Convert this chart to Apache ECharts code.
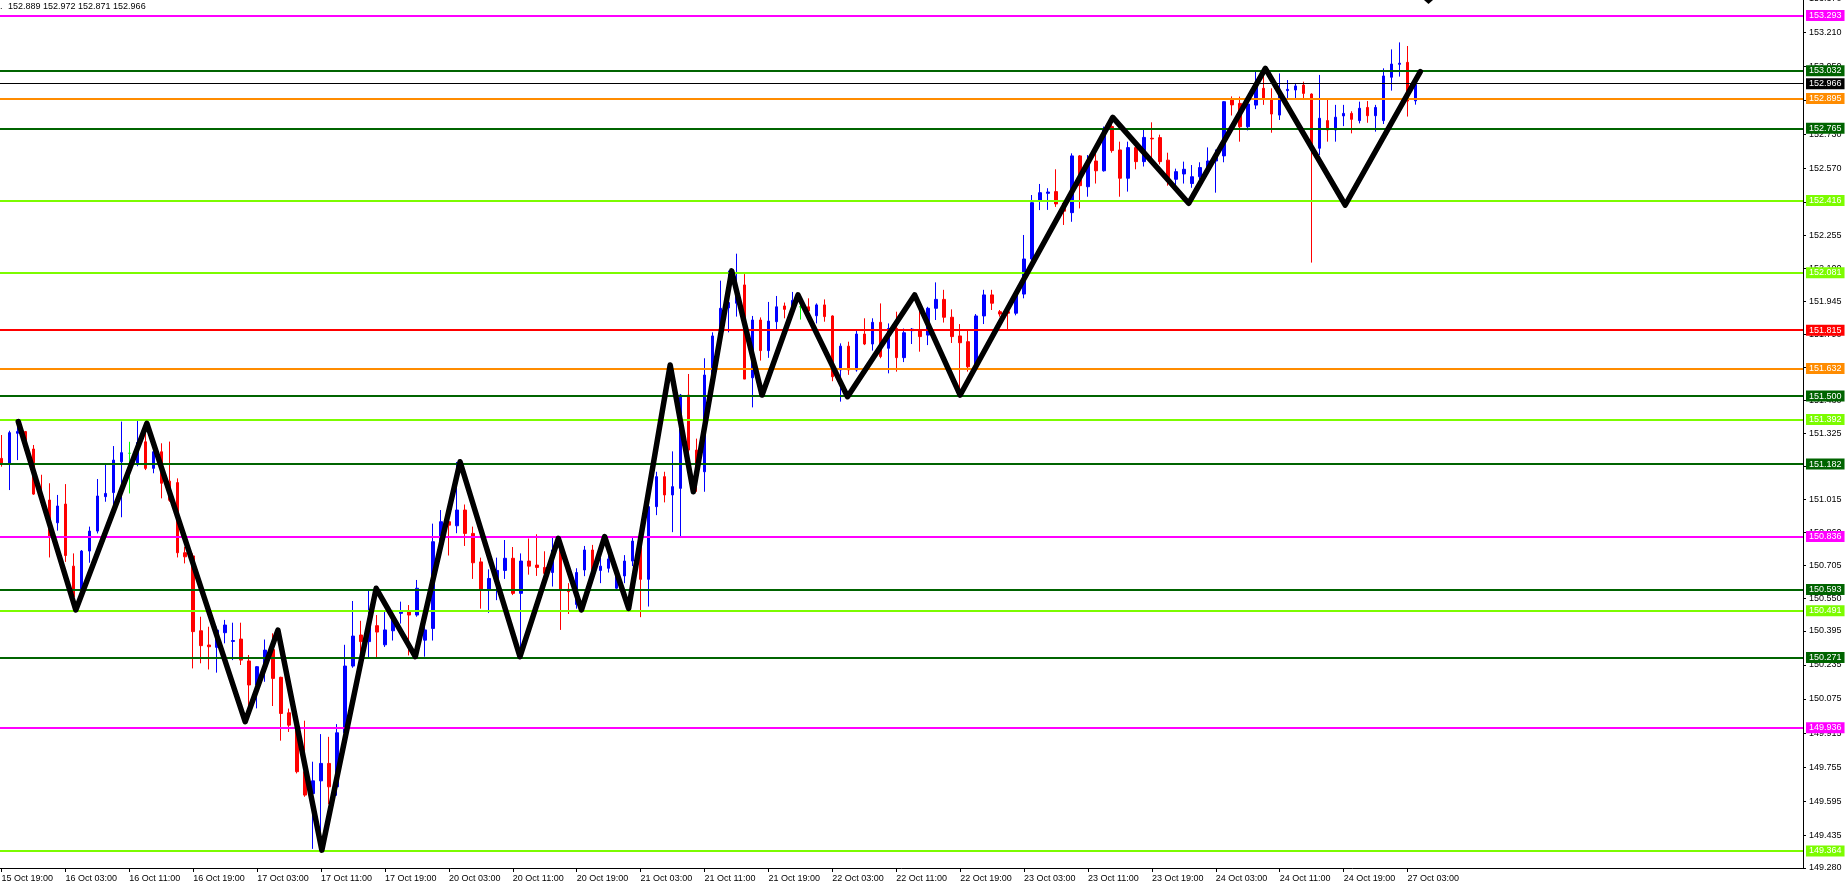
<!DOCTYPE html>
<html><head><meta charset="utf-8">
<script src="https://cdn.jsdelivr.net/npm/echarts@6/dist/echarts.min.js"></script>
<style>html,body{margin:0;padding:0;background:#fff;}#c{width:1848px;height:891px;}</style>
</head><body><div id="c"></div>
<script>
const headerText = '152.889 152.972 152.871 152.966';
const xTickLabels = ['15 Oct 19:00','16 Oct 03:00','16 Oct 11:00','16 Oct 19:00','17 Oct 03:00','17 Oct 11:00','17 Oct 19:00','20 Oct 03:00','20 Oct 11:00','20 Oct 19:00','21 Oct 03:00','21 Oct 11:00','21 Oct 19:00','22 Oct 03:00','22 Oct 11:00','22 Oct 19:00','23 Oct 03:00','23 Oct 11:00','23 Oct 19:00','24 Oct 03:00','24 Oct 11:00','24 Oct 19:00','27 Oct 03:00'];
const yTickValues = [149.280,149.435,149.595,149.755,149.915,150.075,150.235,150.395,150.550,150.705,150.860,151.015,151.170,151.325,151.480,151.635,151.790,151.945,152.100,152.255,152.410,152.570,152.730,152.890,153.050,153.210,153.370];

const opens = [151.207,151.184,151.325,151.333,151.251,151.04,151.011,150.904,150.992,150.70,
150.588,150.771,150.865,151.027,151.046,151.191,151.231,151.184,151.285,151.16,
151.238,151.10,151.093,150.763,150.748,150.396,150.329,150.318,150.387,150.346,
150.357,150.254,150.141,150.227,150.308,150.177,150.010,149.937,149.733,149.63,
149.69,149.772,149.662,149.916,150.23,150.376,150.345,150.42,150.33,150.396,
150.478,150.486,150.47,150.352,150.407,150.815,150.909,150.89,150.964,150.854,
150.72,150.59,150.64,150.68,150.737,150.572,150.724,150.705,150.694,150.67,
150.776,150.591,150.52,150.682,150.776,150.68,150.69,150.596,150.654,150.724,
150.818,150.638,150.98,151.121,151.035,151.066,151.505,151.246,151.144,151.599,
151.78,151.915,151.937,152.023,151.586,151.858,151.714,151.85,151.924,151.91,
151.92,151.92,151.878,151.929,151.877,151.623,151.735,151.623,151.792,151.745,
151.847,151.725,151.818,151.681,151.808,151.808,151.787,151.913,151.955,151.871,
151.783,151.756,151.638,151.877,151.976,151.897,151.897,151.89,151.98,152.145,
152.42,152.454,152.462,152.407,152.363,152.63,152.485,152.606,152.56,152.768,
152.658,152.525,152.669,152.603,152.713,152.716,152.61,152.52,152.545,152.50,
152.532,152.575,152.606,152.63,152.893,152.877,152.767,152.869,152.948,152.90,
152.822,152.937,152.94,152.963,152.921,152.666,152.796,152.752,152.818,152.83,
152.796,152.858,152.819,152.796,153.0,153.061,153.07,152.889];
const highs = [151.317,151.337,151.38,151.336,151.27,151.13,151.09,151.035,151.086,150.76,
150.776,150.886,151.11,151.176,151.265,151.38,151.285,151.384,151.372,151.29,
151.278,151.286,151.113,150.791,150.76,150.462,150.415,150.415,150.447,150.434,
150.434,150.282,150.23,150.355,150.384,150.18,150.03,149.976,149.973,149.78,
149.91,149.897,149.957,150.33,150.536,150.443,150.588,150.47,150.486,150.494,
150.533,150.517,150.635,150.44,150.90,150.964,150.93,151.19,150.99,150.886,
150.74,150.685,150.74,150.823,150.79,150.76,150.83,150.85,150.77,150.84,
150.80,150.62,150.69,150.795,150.80,150.74,150.77,150.70,150.752,150.84,
150.85,151.06,151.144,151.144,151.24,151.51,151.604,151.30,151.678,151.80,
152.043,152.09,152.17,152.074,151.877,151.87,151.943,151.971,151.94,151.99,
151.93,151.96,151.936,151.955,151.88,151.748,151.756,151.81,151.866,151.866,
151.936,151.842,151.897,151.818,151.82,151.92,151.92,152.035,152.0,151.908,
151.839,151.811,151.886,152.0,152.0,151.905,151.92,152.0,152.258,152.446,
152.498,152.478,152.567,152.42,152.642,152.634,152.634,152.65,152.768,152.81,
152.697,152.697,152.70,152.76,152.788,152.73,152.645,152.57,152.603,152.587,
152.60,152.67,152.66,152.888,152.91,152.909,152.909,153.026,153.03,152.948,
153.018,152.987,152.971,152.979,152.924,153.011,152.893,152.87,152.87,152.84,
152.885,152.888,152.87,153.042,153.131,153.164,153.147,152.972];
const lows = [151.168,151.058,151.199,151.238,151.035,150.99,150.741,150.867,150.72,150.506,
150.575,150.716,150.854,151.003,150.93,150.93,151.042,151.17,151.152,151.137,
151.019,151.003,150.741,150.713,150.219,150.243,150.214,150.199,150.337,150.258,
150.235,150.03,150.031,150.156,150.042,149.879,149.92,149.725,149.615,149.37,
149.42,149.58,149.62,149.88,150.222,150.27,150.266,150.27,150.32,150.35,
150.43,150.28,150.462,150.274,150.35,150.80,150.75,150.855,150.795,150.64,
150.50,150.48,150.54,150.64,150.564,150.30,150.66,150.654,150.63,150.604,
150.40,150.475,150.50,150.653,150.62,150.62,150.67,150.59,150.62,150.70,
150.46,150.51,150.94,151.0,150.86,150.84,151.17,151.05,151.05,151.58,
151.76,151.80,151.874,151.58,151.447,151.667,151.68,151.81,151.866,151.88,
151.86,151.86,151.842,151.85,151.57,151.474,151.60,151.615,151.74,151.714,
151.678,151.607,151.615,151.66,151.745,151.709,151.74,151.858,151.846,151.75,
151.505,151.615,151.62,151.839,151.905,151.874,151.814,151.88,151.96,152.12,
152.375,152.376,152.39,152.305,152.32,152.383,152.438,152.50,152.556,152.645,
152.438,152.462,152.567,152.58,152.619,152.59,152.49,152.49,152.50,152.48,
152.52,152.56,152.457,152.60,152.82,152.697,152.75,152.85,152.87,152.739,
152.799,152.901,152.893,152.901,152.128,152.634,152.697,152.697,152.77,152.736,
152.783,152.786,152.744,152.78,152.937,153.003,152.815,152.871];
const closes = [151.184,151.328,151.333,151.246,151.039,151.0,150.839,150.983,150.75,150.556,
150.771,150.865,151.03,151.042,151.199,151.234,151.231,151.282,151.16,151.238,
151.09,151.01,150.763,150.744,150.392,150.326,150.321,150.399,150.423,150.35,
150.258,150.141,150.227,150.305,150.172,150.007,149.952,149.733,149.623,149.69,
149.772,149.662,149.916,150.23,150.371,150.345,150.42,150.39,150.40,150.447,
150.486,150.47,150.596,150.40,150.815,150.909,150.893,150.964,150.854,150.716,
150.59,150.642,150.68,150.737,150.572,150.724,150.70,150.694,150.666,150.776,
150.591,150.58,150.67,150.776,150.674,150.70,150.734,150.66,150.724,150.818,
150.638,150.98,151.121,151.035,151.074,151.505,151.246,151.14,151.599,151.783,
151.913,151.94,152.00,151.58,151.858,151.714,151.853,151.92,151.908,151.95,
151.92,151.90,151.929,151.874,151.591,151.735,151.623,151.792,151.745,151.847,
151.686,151.818,151.681,151.798,151.815,151.78,151.913,151.955,151.871,151.78,
151.751,151.638,151.877,151.976,151.937,151.886,151.89,151.98,152.145,152.41,
152.457,152.46,152.404,152.37,152.63,152.49,152.603,152.56,152.757,152.655,
152.525,152.669,152.603,152.717,152.71,152.603,152.525,152.556,152.567,152.532,
152.575,152.606,152.63,152.885,152.87,152.767,152.874,152.956,152.90,152.827,
152.924,152.943,152.959,152.924,152.666,152.807,152.752,152.812,152.83,152.802,
152.854,152.819,152.858,153.006,153.062,153.066,152.888,152.966];

const levelPrices = [153.293,153.032,152.895,152.765,152.416,152.081,151.815,151.632,151.500,151.392,151.182,150.836,150.593,150.491,150.271,149.936,149.364];
const levelColors = ['#ff00ff','#006400','#ff8c00','#006400','#7cfc00','#7cfc00','#ff0000','#ff8c00','#006400','#7cfc00','#006400','#ff00ff','#006400','#7cfc00','#006400','#ff00ff','#7cfc00'];
const bidPrice = 152.966;

const zigzagIdx = [2.1,9.3,18.2,30.5,34.6,40.1,46.9,51.8,57.4,64.9,69.7,72.6,75.5,78.5,83.7,86.6,91.4,95.2,99.7,105.9,114.3,120.0,139.1,148.6,158.2,168.2,177.6];
const zigzagPrice = [151.38,150.494,151.372,149.968,150.399,149.364,150.596,150.274,151.191,150.274,150.831,150.494,150.839,150.501,151.646,151.05,152.089,151.505,151.976,151.497,151.976,151.505,152.811,152.407,153.042,152.399,153.026];

const N = 226;
const FONT = 'Liberation Sans';
const cats = [];
for (let i = 0; i < N; i++) cats.push(String(i));
const candles = opens.map((o, i) => [o, closes[i], lows[i], highs[i]]);
const zig = zigzagIdx.map((x, i) => [x, zigzagPrice[i]]);
const showTick = (i) => i % 8 === 0 && i / 8 < xTickLabels.length;

function levelItem(p, c, w) {
  return {
    yAxis: p,
    lineStyle: { color: c, width: w, type: 'solid' },
    label: {
      show: true, position: 'end', distance: 3,
      formatter: p.toFixed(3), color: '#ffffff', backgroundColor: c,
      padding: [1, 3, 0, 3], fontSize: 9, lineHeight: 10, fontFamily: FONT
    }
  };
}
const markData = levelPrices.map((p, i) => levelItem(p, levelColors[i], 2));
markData.push(levelItem(bidPrice, '#000000', 1));

const chart = echarts.init(document.getElementById('c'), null, { renderer: 'canvas' });
chart.setOption({
  animation: false,
  backgroundColor: '#ffffff',
  grid: { left: -2.5, right: 45, top: -1.4, bottom: 23, containLabel: false, outerBoundsMode: 'none' },
  xAxis: [{
    type: 'category', data: cats, boundaryGap: true, position: 'bottom',
    axisLine: { show: true, lineStyle: { color: '#000', width: 1 } },
    axisTick: { show: true, alignWithLabel: true, interval: showTick, length: 4, lineStyle: { color: '#000' } },
    axisLabel: { show: true, interval: showTick, align: 'left', margin: 6, fontSize: 9, fontFamily: FONT, color: '#000',
      formatter: (v, i) => xTickLabels[Math.round(i / 8)] || '' },
    splitLine: { show: false }
  }, {
    type: 'value', min: -0.5, max: N - 0.5, show: false
  }],
  yAxis: {
    type: 'value', position: 'right', min: 149.28, max: 153.37, scale: true,
    axisLine: { show: true, onZero: false, lineStyle: { color: '#000', width: 1 } },
    axisTick: { show: true, customValues: yTickValues, length: 3, lineStyle: { color: '#000' } },
    axisLabel: { show: true, customValues: yTickValues, margin: 6, fontSize: 9, fontFamily: FONT, color: '#000',
      formatter: (v) => v.toFixed(3) },
    splitLine: { show: false }
  },
  graphic: [
    { type: 'text', left: 0, top: 2, style: { text: '.', font: '9px ' + FONT, fill: '#000' } },
    { type: 'text', left: 8, top: 2, style: { text: headerText, font: '9px ' + FONT, fill: '#000' } },
    { type: 'polygon', shape: { points: [[1424, 0], [1433, 0], [1428.5, 4]] }, style: { fill: '#000' } }
  ],
  series: [{
    type: 'candlestick', data: candles, xAxisIndex: 0, barWidth: 3,
    itemStyle: { color: '#0000ff', color0: '#ff0000', borderColor: '#0000ff', borderColor0: '#ff0000', borderColorDoji: '#00ff00', borderWidth: 1 },
    markLine: { symbol: ['none', 'none'], silent: true, animation: false, data: markData, z: 3 },
    z: 2
  }, {
    type: 'line', data: zig, xAxisIndex: 1, showSymbol: false, symbol: 'none',
    lineStyle: { color: '#000', width: 5.5, cap: 'round', join: 'round' },
    z: 6, silent: true
  }]
});
</script></body></html>
